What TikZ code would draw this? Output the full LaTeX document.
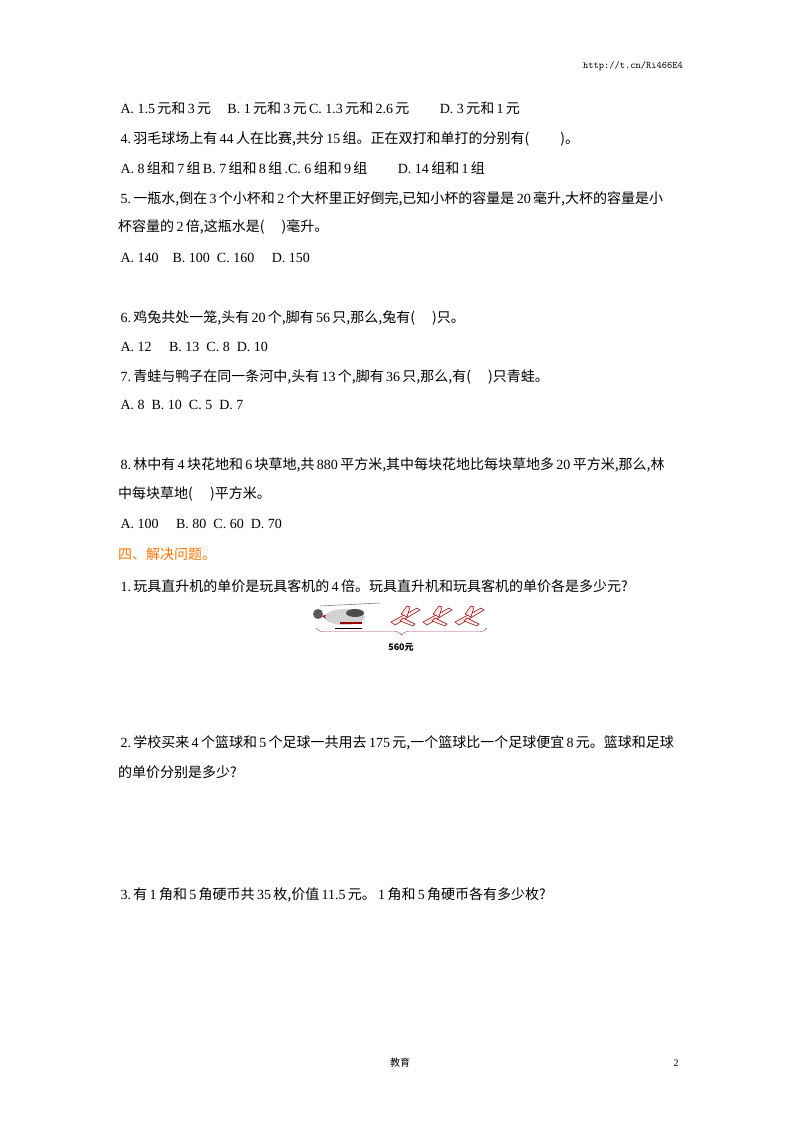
\documentclass[tikz,border=0pt]{standalone}
\usepackage{fontspec}
\setmainfont{Liberation Serif}
\newfontfamily\cjk{Noto Sans CJK SC}
\newcommand{\nm}[1]{\,{\rmfamily #1}\,}
\usetikzlibrary{decorations.pathreplacing}
\begin{document}
\begin{tikzpicture}[x=1pt,y=-1pt,
  t/.style={anchor=west,inner sep=0pt,font=\cjk\fontsize{14}{16}\selectfont},
  plane/.style={fill=red!10,draw=red!50!black,line width=0.5pt}]
\useasboundingbox (0,0) rectangle (800,1132);
\node[anchor=east,inner sep=0pt,font=\ttfamily\fontsize{10}{12}\selectfont] (url) at (683,66) {http://t.cn/Ri466E4};
\node[t] (l1) at (118,108) {\nm{A. 1.5}元和\nm{3}元\quad\nm{B. 1}元和\nm{3}元\nm{C. 1.3}元和\nm{2.6}元\qquad\nm{D. 3}元和\nm{1}元};
\node[t] (l2) at (118,139) {\nm{4.}羽毛球场上有\nm{44}人在比赛,共分\nm{15}组。正在双打和单打的分别有(\qquad\ )。};
\node[t] (l3) at (118,168) {\nm{A. 8}组和\nm{7}组\nm{B. 7}组和\nm{8}组\nm{.C. 6}组和\nm{9}组\qquad\nm{D. 14}组和\nm{1}组};
\node[t] (l4) at (118,199) {\nm{5.}一瓶水,倒在\nm{3}个小杯和\nm{2}个大杯里正好倒完,已知小杯的容量是\nm{20}毫升,大杯的容量是小};
\node[t] (l5) at (118,227) {杯容量的\nm{2}倍,这瓶水是(\quad\ )毫升。};
\node[t] (l6) at (118,258) {\nm{A. 140\quad B. 100\ \ C. 160\quad\ D. 150}};
\node[t] (l7) at (118,318) {\nm{6.}鸡兔共处一笼,头有\nm{20}个,脚有\nm{56}只,那么,兔有(\quad\ )只。};
\node[t] (l8) at (118,347) {\nm{A. 12\quad\ B. 13\ \ C. 8\ \ D. 10}};
\node[t] (l9) at (118,377) {\nm{7.}青蛙与鸭子在同一条河中,头有\nm{13}个,脚有\nm{36}只,那么,有(\quad\ )只青蛙。};
\node[t] (l10) at (118,405) {\nm{A. 8\ \ B. 10\ \ C. 5\ \ D. 7}};
\node[t] (l11) at (118,465) {\nm{8.}林中有\nm{4}块花地和\nm{6}块草地,共\nm{880}平方米,其中每块花地比每块草地多\nm{20}平方米,那么,林};
\node[t] (l12) at (118,494) {中每块草地(\quad\ )平方米。};
\node[t] (l13) at (118,524) {\nm{A. 100\quad\ B. 80\ \ C. 60\ \ D. 70}};
\node[t,text=orange!90!red] (l14) at (118,554) {四、解决问题。};
\node[t] (l15) at (118,586) {\nm{1.}玩具直升机的单价是玩具客机的\nm{4}倍。玩具直升机和玩具客机的单价各是多少元?};
% helicopter
\fill[gray!70!black] (318,614) ellipse (5pt and 5pt);
\fill[red!70!black] (322,616) -- (345,609) -- (350,622) -- (330,622) -- cycle;
\fill[gray!35] (345,617) ellipse (20pt and 8pt);
\fill[red!60!black] (340,622) rectangle (362,624);
\fill[black!70] (355,613) ellipse (9pt and 4pt);
\draw[gray,line width=0.6pt] (320,606) -- (380,603);
\draw[black,line width=0.6pt] (335,628) -- (362,628);
% planes
\foreach \px in {405,437,469}{
  \fill[plane] (\px-14,622) -- (\px+12,608) -- (\px+15,610) -- (\px-10,625) -- cycle;
  \fill[plane] (\px-4,614) -- (\px+2,606) -- (\px+5,607) -- (\px+2,617) -- cycle;
  \fill[plane] (\px-2,618) -- (\px+10,624) -- (\px+8,626) -- (\px-5,621) -- cycle;
}
\coordinate (b1) at (316,628);
\coordinate (b2) at (487,628);
\draw[magenta!60!black,decorate,decoration={brace,mirror,amplitude=7pt}] (b1) -- (b2);
\node[inner sep=0pt,font=\cjk\bfseries\fontsize{9}{11}\selectfont] (lab) at (401,647) {560元};
\node[t] (l16) at (118,743) {\nm{2.}学校买来\nm{4}个篮球和\nm{5}个足球一共用去\nm{175}元,一个篮球比一个足球便宜\nm{8}元。篮球和足球};
\node[t] (l17) at (118,772) {的单价分别是多少?};
\node[t] (l18) at (118,895) {\nm{3.}有\nm{1}角和\nm{5}角硬币共\nm{35}枚,价值\nm{11.5}元。\nm{1}角和\nm{5}角硬币各有多少枚?};
\node[inner sep=0pt,font=\cjk\fontsize{10}{12}\selectfont] (f1) at (400,1063) {教育};
\node[inner sep=0pt,font=\fontsize{10}{12}\selectfont] (f2) at (676,1063) {2};
\end{tikzpicture}
\end{document}
